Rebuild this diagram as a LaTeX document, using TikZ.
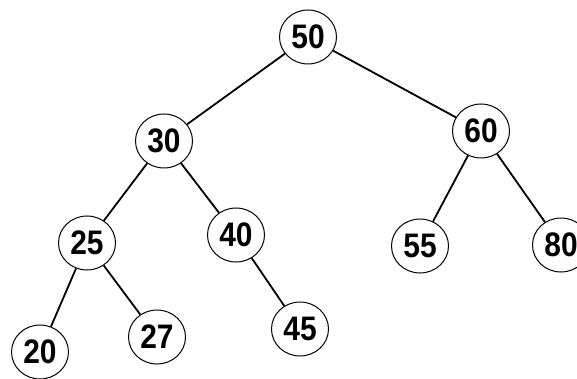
\documentclass[tikz,border=0pt]{standalone}
\usepackage{fontspec}
\setmainfont{Liberation Sans}
\usetikzlibrary{shapes.geometric}
\begin{document}
\begin{tikzpicture}[x=1pt,y=-1pt]
\tikzset{key/.style={ellipse,draw,line width=1pt,minimum width=57pt,minimum height=54pt,inner sep=0pt,font=\fontsize{34}{34}\selectfont\bfseries}}
\clip (0, 0) rectangle (577, 379);
\fill[white] (0, 0) rectangle (577, 379);

\foreach \k/\x/\y in {50/308/37, 30/164/141, 60/481/131, 25/87/243, 40/236/235, 55/420/246, 80/561/245, 20/40/352, 27/157/337, 45/300/329}
  \node[key] (n\k) at (\x, \y) {\raisebox{-3pt}{\scalebox{0.88}[1]{\k}}};

\foreach \a/\b in {50/30, 50/60, 30/25, 30/40, 60/55, 60/80, 25/20, 25/27, 40/45}
  \draw[line width=1.8pt] (n\a) -- (n\b);
\end{tikzpicture}
\end{document}
